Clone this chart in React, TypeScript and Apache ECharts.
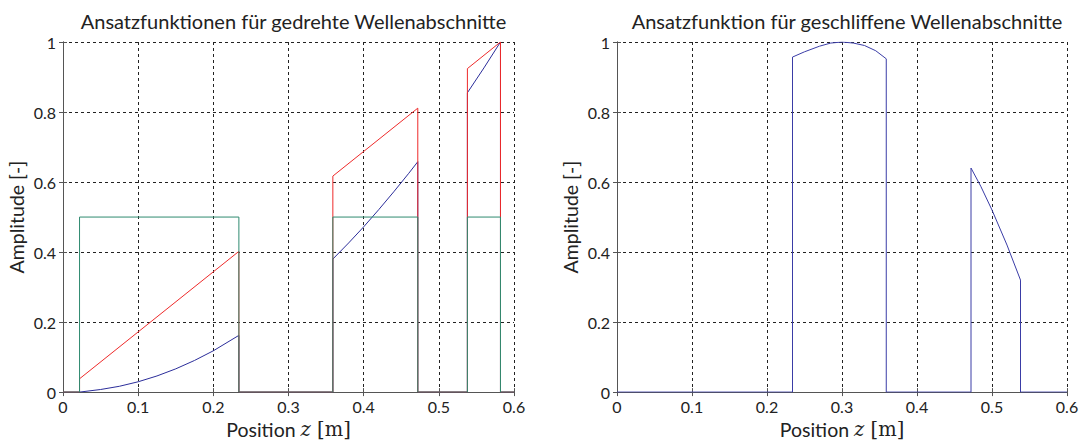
import React, { useEffect, useRef } from "react";
import * as echarts from "echarts";

// Left plot: shape functions for turned shaft sections
const leftGreen: number[][] = [
  [0, 0], [0.022, 0], [0.022, 0.5], [0.234, 0.5], [0.234, 0],
  [0.359, 0], [0.359, 0.5], [0.472, 0.5], [0.472, 0],
  [0.538, 0], [0.538, 0.5], [0.582, 0.5], [0.582, 0], [0.6, 0],
];
const leftRed: number[][] = [
  [0, 0], [0.022, 0], [0.022, 0.038], [0.234, 0.402], [0.234, 0],
  [0.359, 0], [0.359, 0.617], [0.472, 0.811], [0.472, 0],
  [0.538, 0], [0.538, 0.924], [0.582, 1.0], [0.582, 0], [0.6, 0],
];
const leftBlue: number[][] = [
  [0, 0], [0.022, 0], [0.022, 0.0014], [0.05, 0.0074], [0.075, 0.0166],
  [0.1, 0.0295], [0.125, 0.0461], [0.15, 0.0664], [0.175, 0.0904],
  [0.2, 0.118], [0.234, 0.162], [0.234, 0],
  [0.359, 0], [0.359, 0.38], [0.38, 0.426], [0.4, 0.472], [0.42, 0.521],
  [0.44, 0.572], [0.46, 0.625], [0.472, 0.658], [0.472, 0],
  [0.538, 0], [0.538, 0.855], [0.56, 0.926], [0.582, 1.0], [0.582, 0], [0.6, 0],
];

// Right plot: shape function for ground shaft sections
const rightBlue: number[][] = [
  [0, 0], [0.234, 0], [0.234, 0.957], [0.25, 0.972], [0.27, 0.988],
  [0.285, 0.997], [0.3, 1.0], [0.315, 0.997], [0.33, 0.99], [0.345, 0.975],
  [0.359, 0.952], [0.359, 0],
  [0.472, 0], [0.472, 0.64], [0.485, 0.588], [0.5, 0.52], [0.52, 0.42],
  [0.538, 0.32], [0.538, 0], [0.6, 0],
];

const titles = [
  "Ansatzfunktionen für gedrehte Wellenabschnitte",
  "Ansatzfunktion für geschliffene Wellenabschnitte",
];
const xTicks = { min: 0, max: 0.6, interval: 0.1 };
const yTicks = { min: 0, max: 1, interval: 0.2 };

const SANS = "Lato, 'Open Sans', sans-serif";
const SERIF = "'DejaVu Serif', 'Liberation Serif', serif";

export default function App() {
  const ref = useRef<HTMLDivElement>(null);
  useEffect(() => {
    if (!ref.current) return;
    const chart = echarts.init(ref.current, undefined, { renderer: "svg" });
    const grids = [
      { left: 63, top: 42, width: 451, height: 351 },
      { left: 617, top: 42, width: 450, height: 351 },
    ];
    const axisBase = {
      axisLine: { show: true, onZero: false, lineStyle: { color: "#555", width: 1 } },
      axisTick: { show: true, inside: true, length: 4, lineStyle: { color: "#555" } },
      splitLine: { show: true, lineStyle: { color: "#222", type: [3, 3], width: 1 } },
      axisLabel: { color: "#222", fontSize: 16, fontFamily: SANS },
    };
    const xAxis: any[] = [];
    const yAxis: any[] = [];
    grids.forEach((_, i) => {
      xAxis.push({
        type: "value", gridIndex: i, ...xTicks, position: "bottom", ...axisBase,
        axisLabel: { ...axisBase.axisLabel, margin: 6 },
        name: "{a|Position }{b|z}{c| [m]}",
        nameLocation: "middle", nameGap: 23,
        nameTextStyle: {
          rich: {
            a: { fontFamily: SANS, fontSize: 19.5, color: "#222" },
            b: { fontFamily: SERIF, fontStyle: "italic", fontSize: 19.5, color: "#222" },
            c: { fontFamily: SERIF, fontSize: 19.5, color: "#222" },
          },
        },
      });
      xAxis.push({
        type: "value", gridIndex: i, ...xTicks, position: "top",
        axisLine: { show: true, lineStyle: { color: "#555" } },
        axisTick: { show: true, inside: true, length: 4, lineStyle: { color: "#555" } },
        axisLabel: { show: false }, splitLine: { show: false },
      });
      yAxis.push({
        type: "value", gridIndex: i, ...yTicks, position: "left", ...axisBase,
        axisLabel: { ...axisBase.axisLabel, margin: 7 },
        name: "Amplitude [-]", nameLocation: "middle", nameGap: 37,
        nameTextStyle: { fontFamily: SANS, fontSize: 19.5, color: "#222" },
      });
      yAxis.push({
        type: "value", gridIndex: i, ...yTicks, position: "right",
        axisLine: { show: true, lineStyle: { color: "#555" } },
        axisTick: { show: true, inside: true, length: 4, lineStyle: { color: "#555" } },
        axisLabel: { show: false }, splitLine: { show: false },
      });
    });
    const line = (data: number[][], color: string, grid: number) => ({
      type: "line", data, xAxisIndex: grid * 2, yAxisIndex: grid * 2,
      showSymbol: false, symbol: "none", silent: true,
      lineStyle: { color, width: 1 }, z: 3,
    });
    const titleStyle = { fontFamily: SANS, fontSize: 20, fontWeight: "normal", color: "#222" };
    chart.setOption({
      animation: false,
      title: [
        { text: titles[0], left: 288.5, top: 6, textAlign: "center", textStyle: titleStyle },
        { text: titles[1], left: 842, top: 6, textAlign: "center", textStyle: titleStyle },
      ],
      grid: grids,
      xAxis, yAxis,
      series: [
        line(leftBlue, "#2b2d9a", 0),
        line(leftRed, "#ee2a2a", 0),
        line(leftGreen, "#2f8a70", 0),
        line(rightBlue, "#3a3ca6", 1),
      ],
    });
    return () => chart.dispose();
  }, []);
  return (
    <div ref={ref} style={{ position: "absolute", left: 0, top: 0, width: 1083, height: 444, background: "#fff" }} />
  );
}
